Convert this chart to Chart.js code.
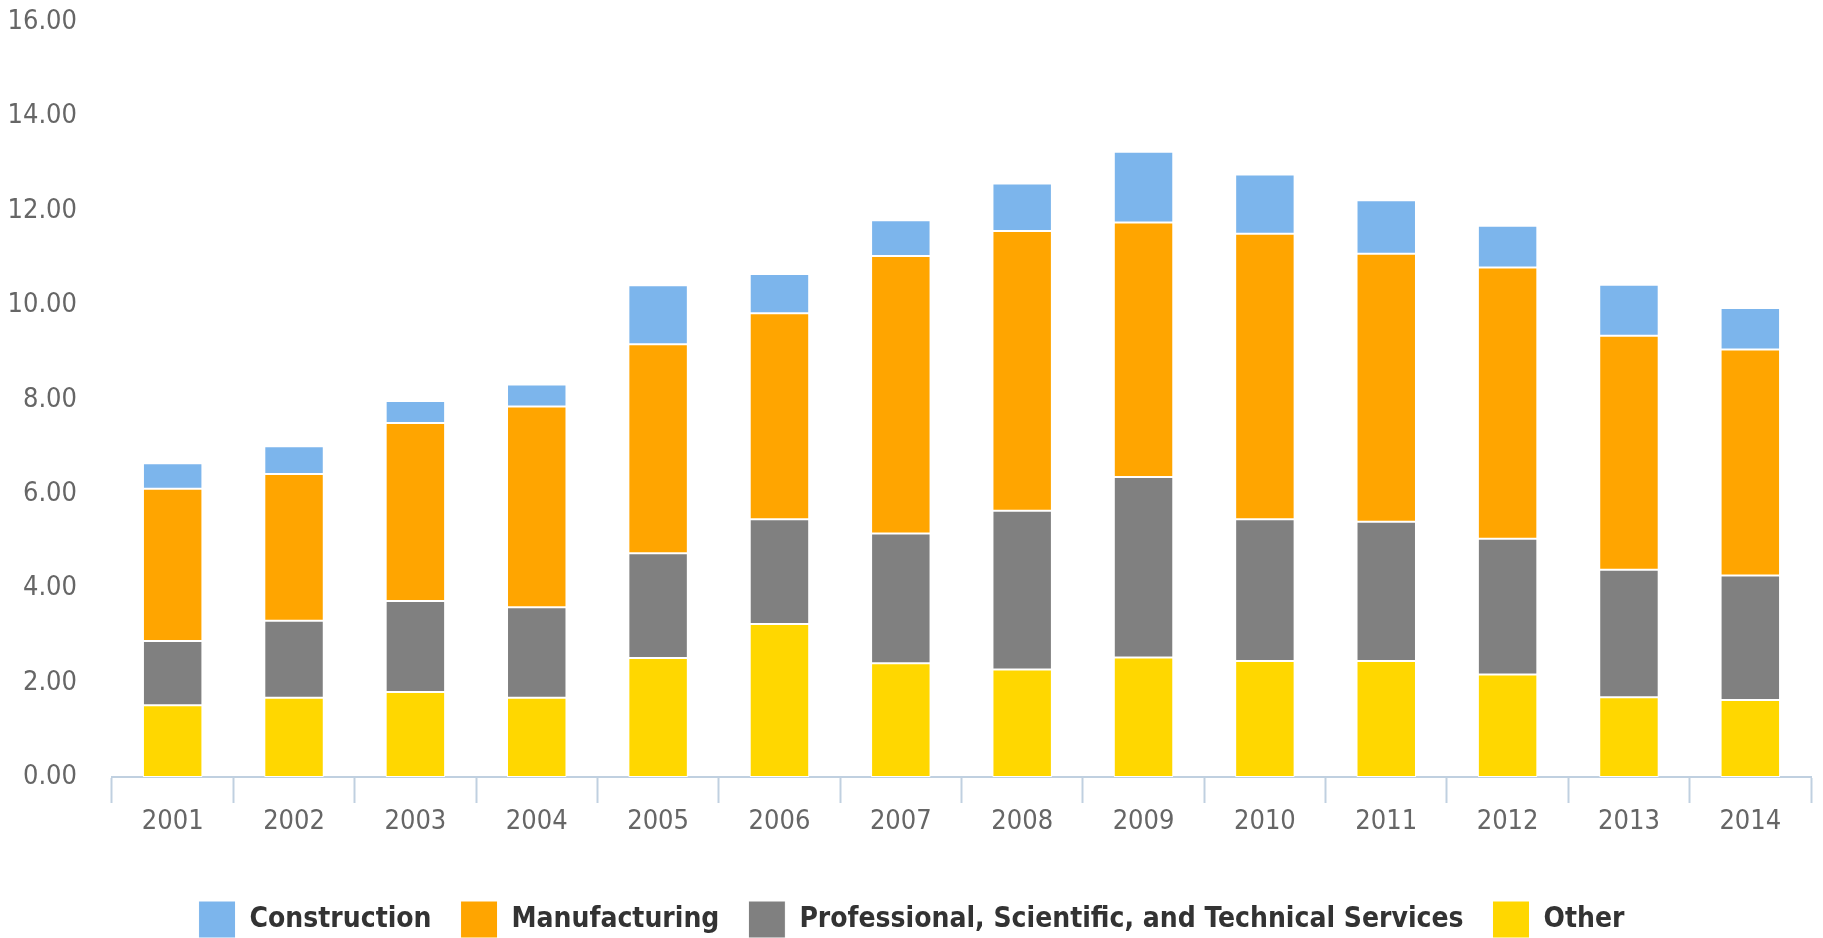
<!DOCTYPE html>
<html>
<head>
<meta charset="utf-8">
<script src="https://cdn.jsdelivr.net/npm/chart.js@4.4.1/dist/chart.umd.min.js"></script>
<style>
  html, body { margin: 0; padding: 0; background: #fff; }
  #wrap { width: 1823px; height: 938px; }
</style>
</head>
<body>
<div id="wrap"><canvas id="chart" width="1823" height="938"></canvas></div>
<script>
const years = ["2001", "2002", "2003", "2004", "2005", "2006", "2007", "2008", "2009", "2010", "2011", "2012", "2013", "2014"];

// values, stacked bottom-up: other, professional, manufacturing, construction
const other         = [1.52, 1.68, 1.80, 1.68, 2.52, 3.24, 2.41, 2.28, 2.53, 2.46, 2.46, 2.17, 1.69, 1.63];
const professional  = [1.36, 1.63, 1.93, 1.92, 2.22, 2.22, 2.75, 3.36, 3.83, 3.00, 2.95, 2.88, 2.70, 2.64];
const manufacturing = [3.23, 3.11, 3.77, 4.25, 4.43, 4.37, 5.88, 5.93, 5.39, 6.05, 5.68, 5.75, 4.96, 4.79];
const construction  = [0.54, 0.59, 0.47, 0.47, 1.25, 0.83, 0.76, 1.01, 1.50, 1.26, 1.13, 0.88, 1.08, 0.88];

const yTicks = [0, 2, 4, 6, 8, 10, 12, 14, 16];

const FONT = "'DejaVu Sans Condensed', 'DejaVu Sans', sans-serif";
const AXIS_COLOR = "#c0d0e0";

function series(label, data, color) {
    return {
        label,
        data,
        backgroundColor: color,
        borderColor: "#ffffff",
        borderWidth: 1,
        borderSkipped: false
    };
}

const ctx = document.getElementById("chart").getContext("2d");

new Chart(ctx, {
    type: "bar",
    data: {
        labels: years,
        datasets: [
            series("Other", other, "#ffd700"),
            series("Professional, Scientific, and Technical Services", professional, "#808080"),
            series("Manufacturing", manufacturing, "#ffa500"),
            series("Construction", construction, "#7cb5ec")
        ]
    },
    options: {
        responsive: false,
        animation: false,
        layout: { padding: { left: 6, right: 6, top: 22, bottom: -10 } },
        datasets: {
            bar: { categoryPercentage: 1, barPercentage: 0.49 }
        },
        scales: {
            x: {
                stacked: true,
                border: { display: true, color: AXIS_COLOR, width: 2 },
                grid: {
                    offset: true,
                    drawOnChartArea: false,
                    drawTicks: true,
                    tickLength: 26,
                    tickWidth: 2,
                    tickColor: AXIS_COLOR
                },
                afterFit: scale => {
                    scale.height = 95;
                    scale.paddingLeft = 0;
                    scale.paddingRight = 12;
                },
                ticks: {
                    color: "#666",
                    padding: 3,
                    font: { family: FONT, size: 27 }
                }
            },
            y: {
                stacked: true,
                min: 0,
                max: 16,
                border: { display: false },
                grid: { display: false, drawTicks: false },
                afterBuildTicks: scale => {
                    scale.ticks = yTicks.map(v => ({ value: v }));
                },
                afterFit: scale => {
                    scale.width = 106;
                    // keep the label gap from pushing the plot area down
                    scale.paddingTop = 0;
                    scale.paddingBottom = 0;
                },
                ticks: {
                    color: "#666",
                    padding: 35,
                    font: { family: FONT, size: 27 },
                    callback: v => Number(v).toFixed(2)
                }
            }
        },
        plugins: {
            legend: {
                position: "bottom",
                labels: {
                    boxWidth: 37,
                    boxHeight: 37,
                    padding: 29,
                    color: "#333",
                    font: { family: FONT, size: 28, weight: "bold" },
                    sort: (a, b) => b.datasetIndex - a.datasetIndex
                }
            },
            tooltip: { enabled: false }
        }
    }
});
</script>
</body>
</html>
